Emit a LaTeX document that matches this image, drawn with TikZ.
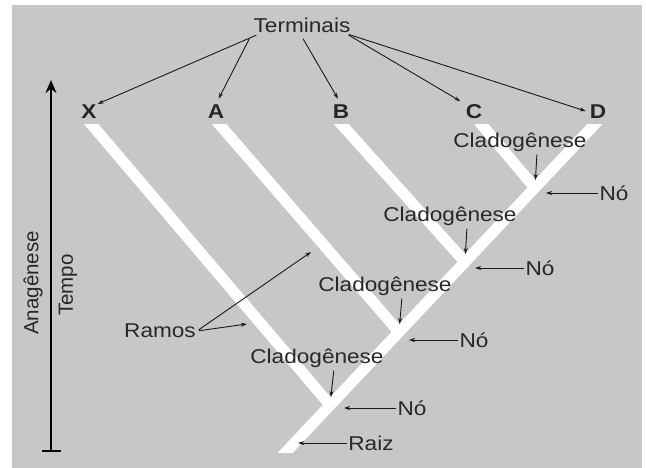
\documentclass[tikz,border=0pt]{standalone}
\usepackage{fontspec}
\setmainfont[FakeStretch=1.13]{Liberation Sans}
\newfontfamily\vertfont{Liberation Sans}
\usetikzlibrary{arrows.meta,calc}
\definecolor{fundo}{RGB}{199,199,199}
\definecolor{texto}{RGB}{40,40,40}
\tikzset{
  rotulo/.style={text=texto,font=\fontsize{20}{22}\selectfont,inner sep=1pt},
  letra/.style={text=black!85,font=\fontsize{20}{22}\selectfont\bfseries,inner sep=1pt},
  seta/.style={draw=black!90,line width=0.9pt,-{Stealth[length=6pt,width=4pt]}},
  ramo/.style={draw=white,line width=11pt},
}

\begin{document}
\begin{tikzpicture}[x=1pt,y=-1pt]
\useasboundingbox (0,0) rectangle (646,468);
\fill[fundo] (12,5) rectangle (642,468);
% pontos da arvore
\coordinate (raiz) at (286,452);
\coordinate (topoX) at (92,125);
\coordinate (topoA) at (220,125);
\coordinate (topoB) at (342,125);
\coordinate (topoC) at (482,125);
\coordinate (topoD) at (594,125);
\coordinate (n1) at (330,405);
\coordinate (n2) at (399,332);
\coordinate (n3) at (465,262);
\coordinate (n4) at (535,188);
% ramos brancos
\begin{scope}
\clip (12,125) rectangle (642,452);
\draw[ramo] ($(raiz)!-0.1!(topoD)$) -- ($(topoD)!-0.1!(raiz)$);
\draw[ramo] ($(topoX)!-0.1!(n1)$) -- (n1);
\draw[ramo] ($(topoA)!-0.1!(n2)$) -- (n2);
\draw[ramo] ($(topoB)!-0.1!(n3)$) -- (n3);
\draw[ramo] ($(topoC)!-0.2!(n4)$) -- (n4);
\end{scope}
% eixo do tempo
\coordinate (eixobase) at (51,452);
\coordinate (eixotopo) at (51,80);
\draw[line width=2.4pt,{Bar[width=19pt]}-{Stealth[length=13pt,width=11pt]}] (eixobase) -- (eixotopo);
\node[rotulo,rotate=90,font=\fontsize{20.5}{22}\vertfont] (anag) at (33,283) {Anagênese};
\node[rotulo,rotate=90,font=\fontsize{20.5}{22}\vertfont] (tempo) at (68,285) {Tempo};
% terminais
\node[rotulo] (term) at (302,25) {Terminais};
\node[letra] (X) at (89,112) {X};
\node[letra] (A) at (216,112) {A};
\node[letra] (B) at (341,112) {B};
\node[letra] (C) at (474,112) {C};
\node[letra] (D) at (598,112) {D};
\draw[seta,shorten <=4pt] ([xshift=-42pt]term.south) -- (X.north east);
\draw[seta,shorten <=6pt,shorten >=6pt] ([xshift=-50pt]term.south) -- (A.north);
\draw[seta,shorten <=6pt,shorten >=6pt] ([xshift=-2pt]term.south) -- (B.north);
\draw[seta,shorten <=3pt,shorten >=5pt] ([xshift=44pt]term.south) -- (C.north west);
\draw[seta,shorten <=3pt,shorten >=3pt] ([xshift=44pt]term.south) -- (D.west);
% cladogeneses
\node[rotulo] (cl1) at (317,358) {Cladogênese};
\node[rotulo] (cl2) at (385,286) {Cladogênese};
\node[rotulo] (cl3) at (450,216) {Cladogênese};
\node[rotulo] (cl4) at (520,142) {Cladogênese};
\draw[seta,shorten <=2pt,shorten >=8pt] ([xshift=17pt]cl1.south) -- (n1);
\draw[seta,shorten <=2pt,shorten >=8pt] ([xshift=17pt]cl2.south) -- (n2);
\draw[seta,shorten <=2pt,shorten >=8pt] ([xshift=17pt]cl3.south) -- (n3);
\draw[seta,shorten <=2pt,shorten >=8pt] ([xshift=17pt]cl4.south) -- (n4);
% nos
\node[rotulo] (no1) at (412,408) {Nó};
\node[rotulo] (no2) at (474,340) {Nó};
\node[rotulo] (no3) at (540,268) {Nó};
\node[rotulo] (no4) at (614,193) {Nó};
\draw[seta,shorten >=14pt] (no1.west) -- (no1.west -| n1);
\draw[seta,shorten >=10pt] (no2.west) -- (no2.west -| n2);
\draw[seta,shorten >=10pt] (no3.west) -- (no3.west -| n3);
\draw[seta,shorten >=11pt] (no4.west) -- (no4.west -| n4);
\node[rotulo] (rz) at (371,443) {Raiz};
\draw[seta,shorten >=12pt] (rz.west) -- (rz.west -| raiz);
% ramos
\node[rotulo] (ramos) at (160,331) {Ramos};
\coordinate (ramoX) at (247,324);
\coordinate (ramoA) at (311,252);
\draw[seta,shorten <=2pt] (ramos.east) -- (ramoX);
\draw[seta,shorten <=2pt] (ramos.east) -- (ramoA);
\end{tikzpicture}
\end{document}
